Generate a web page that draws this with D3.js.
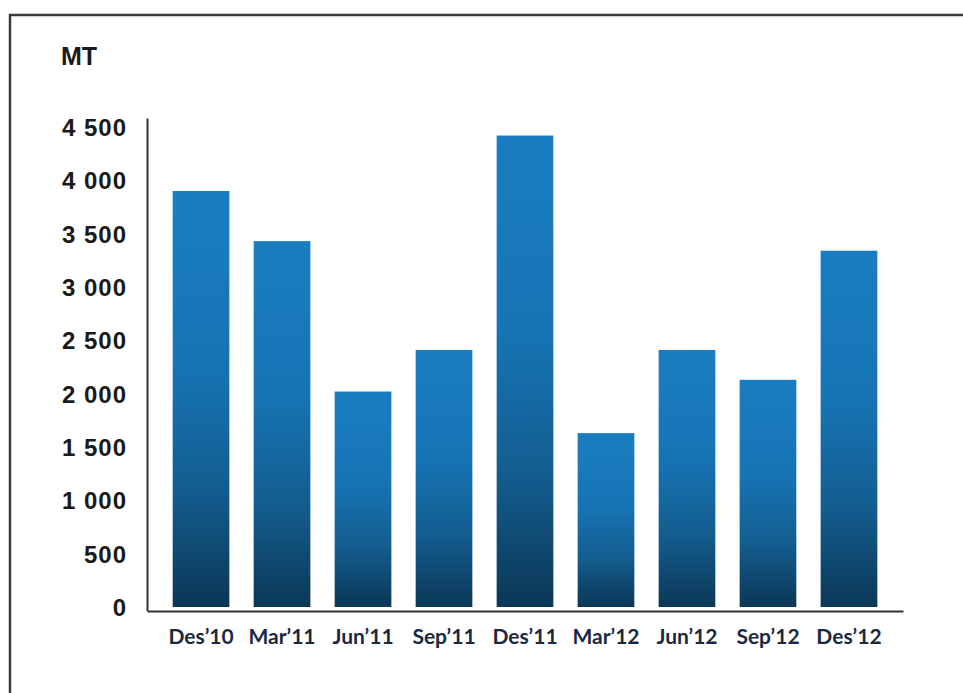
<!DOCTYPE html>
<html>
<head>
<meta charset="utf-8">
<script src="https://cdn.jsdelivr.net/npm/d3@7/dist/d3.min.js"></script>
<style>
  html, body { margin: 0; padding: 0; background: #fff; }
  svg { display: block; }
</style>
</head>
<body>
<svg id="chart" width="963" height="693"></svg>
<script>
// ---- data ----
const categories = ["Des’10", "Mar’11", "Jun’11", "Sep’11", "Des’11", "Mar’12", "Jun’12", "Sep’12", "Des’12"];
const values = [3900, 3430, 2020, 2410, 4420, 1630, 2410, 2130, 3340];
const yTicks = [0, 500, 1000, 1500, 2000, 2500, 3000, 3500, 4000, 4500];
const unitLabel = "MT";

// ---- layout ----
const W = 963, H = 693;
const svg = d3.select("#chart");

// frame (extends past the right / bottom edges as in the reference)
svg.append("rect")
  .attr("x", 10).attr("y", 15)
  .attr("width", W + 20).attr("height", H + 20)
  .attr("fill", "#fff")
  .attr("stroke", "#3a3a3a")
  .attr("stroke-width", 2.5);

const x = d3.scaleBand()
  .domain(categories)
  .range([147, 903])
  .paddingInner(0.3)
  .paddingOuter(0.317);

const y = d3.scaleLinear()
  .domain([0, 4500])
  .range([607, 127]);

const xAxisY = y(0) + 4;

// gradient
const defs = svg.append("defs");
const grad = defs.append("linearGradient")
  .attr("id", "barGrad")
  .attr("x1", 0).attr("y1", 0).attr("x2", 0).attr("y2", 1);
[
  [0, "#1a7dc1"],
  [0.42, "#1674b4"],
  [0.72, "#135d8f"],
  [1, "#0b3756"]
].forEach(([o, c]) => grad.append("stop").attr("offset", o).attr("stop-color", c));

// bars
svg.append("g").selectAll("rect")
  .data(values)
  .join("rect")
  .attr("x", (d, i) => x(categories[i]))
  .attr("width", x.bandwidth())
  .attr("y", d => y(d))
  .attr("height", d => y(0) - y(d))
  .attr("fill", "url(#barGrad)");

// y axis
const yAxis = d3.axisLeft(y).tickValues(yTicks).tickSize(0).tickPadding(0)
  .tickFormat(d => d3.format(",")(d).replace(/,/g, " "));
const gy = svg.append("g").attr("transform", "translate(127,0)").call(yAxis);
gy.select(".domain").remove();
gy.selectAll("text")
  .attr("font-family", "'Liberation Sans', Arial, sans-serif")
  .attr("font-weight", "bold")
  .attr("font-size", 24)
  .attr("letter-spacing", 1)
  .attr("fill", "#1a1a1a")
  .attr("dy", "0.36em");

// y axis line
svg.append("line")
  .attr("x1", 147.5).attr("x2", 147.5)
  .attr("y1", y(4580)).attr("y2", xAxisY)
  .attr("stroke", "#333").attr("stroke-width", 2);

// x axis
const xAxis = d3.axisBottom(x).tickSize(0).tickPadding(0);
const gx = svg.append("g").attr("transform", `translate(0,${xAxisY})`).call(xAxis);
gx.select(".domain")
  .attr("stroke", "#333").attr("stroke-width", 2);
gx.selectAll("text")
  .attr("font-family", "Lato, 'Open Sans', sans-serif")
  .attr("font-weight", "bold")
  .attr("font-size", 21)
  .attr("fill", "#1b2940")
  .attr("dy", "1.55em");

// unit label
svg.append("text")
  .attr("x", 61).attr("y", 65)
  .attr("font-family", "'Liberation Sans', Arial, sans-serif")
  .attr("font-weight", "bold")
  .attr("font-size", 25)
  .attr("fill", "#1a1a1a")
  .text(unitLabel);
</script>
</body>
</html>
